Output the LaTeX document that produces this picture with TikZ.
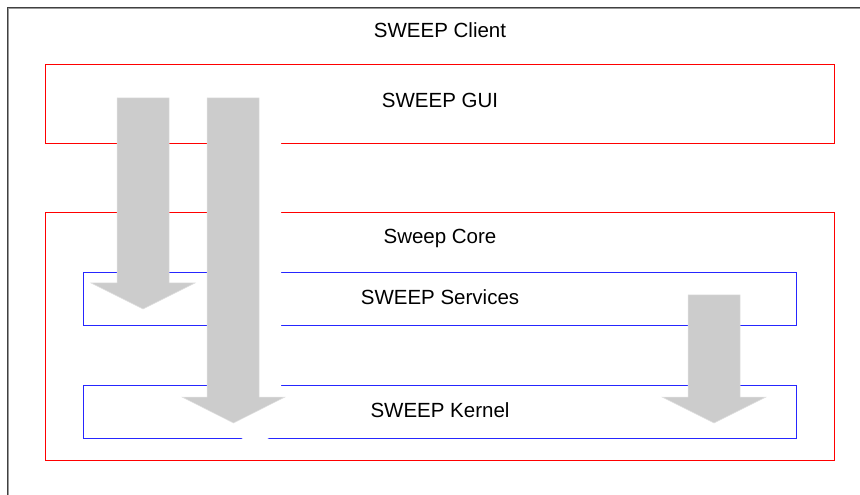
\documentclass[tikz,border=0pt]{standalone}
\usepackage{fontspec}
\setmainfont{Liberation Sans}
\begin{document}
\begin{tikzpicture}[x=1bp,y=-1bp,
  layer/.style={draw=red, line width=1bp, fill=none},
  module/.style={draw=blue!85!white, line width=1bp, fill=none},
  caption/.style={font=\fontsize{20.5bp}{24bp}\selectfont, anchor=base, inner sep=0pt},
  flow/.style={fill=black!20, draw=black!12, line width=0.5bp},
  flowmask/.style={fill=white, draw=none}]
\useasboundingbox (0,0) rectangle (860,495);

% outer client frame (open to the right and bottom)
\coordinate (frameBL) at (7.5,495);
\coordinate (frameTL) at (7.5,7.5);
\coordinate (frameTR) at (860,7.5);
\draw[black!40, line width=2bp] ([xshift=0.8bp,yshift=-0.8bp]frameBL) -- ([xshift=0.8bp,yshift=-0.8bp]frameTL) -- ([yshift=-0.8bp]frameTR);
\draw[black!75, line width=1.2bp] (frameBL) -- (frameTL) -- (frameTR);

% layers
\draw[layer] (45,64.5) rectangle (834,143.5);
\draw[layer] (45,212.5) rectangle (834,460.5);
\draw[module] (83,272.5) rectangle (796.5,325);
\draw[module] (83,385.5) rectangle (796.5,438.5);

% captions
\node[caption] (client) at (440,37.7) {SWEEP Client};
\node[caption] (gui) at (440,107.7) {SWEEP GUI};
\node[caption] (core) at (440,243.7) {Sweep Core};
\node[caption] (services) at (440,304.7) {SWEEP Services};
\node[caption] (kernel) at (440,417.7) {SWEEP Kernel};

% call arrows: GUI -> Services
\fill[flow] (117,98) -- (169,98) -- (169,283) -- (195,283) -- (143,309) -- (91,283) -- (117,283) -- cycle;

% GUI -> Kernel, with its white drop shade
\fill[flowmask] (229,120) -- (281,120) -- (281,419) -- (307,419) -- (255,445) -- (204,419) -- (229,419) -- cycle;
\fill[flow] (207,98) -- (259,98) -- (259,397) -- (285,397) -- (233.5,423) -- (182,397) -- (207,397) -- cycle;

% Services -> Kernel
\fill[flow] (688,295) -- (740,295) -- (740,397) -- (766,397) -- (714,423) -- (662,397) -- (688,397) -- cycle;
\end{tikzpicture}
\end{document}
